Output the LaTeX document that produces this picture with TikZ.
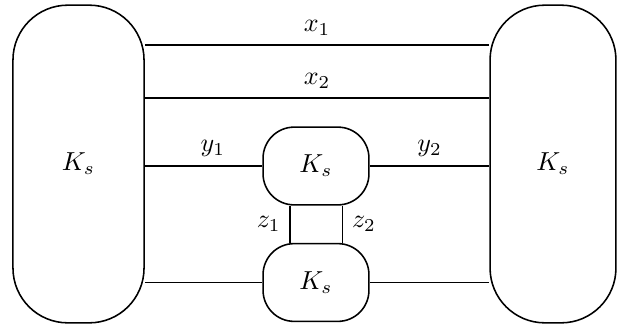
\documentclass[tikz,border=0pt]{standalone}
\usepackage{amsmath,amssymb}
\usepackage{tikz}
\usetikzlibrary{positioning,calc}

\begin{document}
\begin{tikzpicture}[x=0.0135cm,y=-0.0135cm,
  bigbox/.style={draw,line width=0.6pt,rounded corners=0.74cm,
    minimum width=1.77cm,minimum height=4.29cm,inner sep=0pt},
  smallbox/.style={draw,line width=0.6pt,rounded corners=0.42cm,
    minimum width=1.43cm,minimum height=1.05cm,inner sep=0pt},
  wire/.style={draw,line width=0.6pt}]
\useasboundingbox (0,0) rectangle (618,327);
\node[bigbox] (left) at (78.5,164) {$K_s$};
\node[bigbox,minimum width=1.70cm] (right) at (553,164) {$K_s$};
\node[smallbox] (top) at (316,166) {$K_s$};
\node[smallbox] (bot) at (316,282.5) {$K_s$};
\draw[wire] ([yshift=1.61cm]left.east) -- node[above] {$x_1$} ([yshift=1.61cm]right.west);
\draw[wire] ([yshift=0.89cm]left.east) -- node[above] {$x_2$} ([yshift=0.89cm]right.west);
\draw[wire] (left.east |- top.west) -- node[above,pos=0.58] {$y_1$} (top.west);
\draw[wire] (top.east) -- node[above] {$y_2$} (right.west |- top.east);
\draw[wire] (left.east |- bot.west) -- (bot.west);
\draw[wire] (bot.east) -- (right.west |- bot.east);
\draw[wire] ([xshift=-0.35cm]top.south) -- node[left] {$z_1$} ([xshift=-0.35cm]bot.north);
\draw[wire] ([xshift=0.36cm]top.south) -- node[right] {$z_2$} ([xshift=0.36cm]bot.north);
\end{tikzpicture}
\end{document}
